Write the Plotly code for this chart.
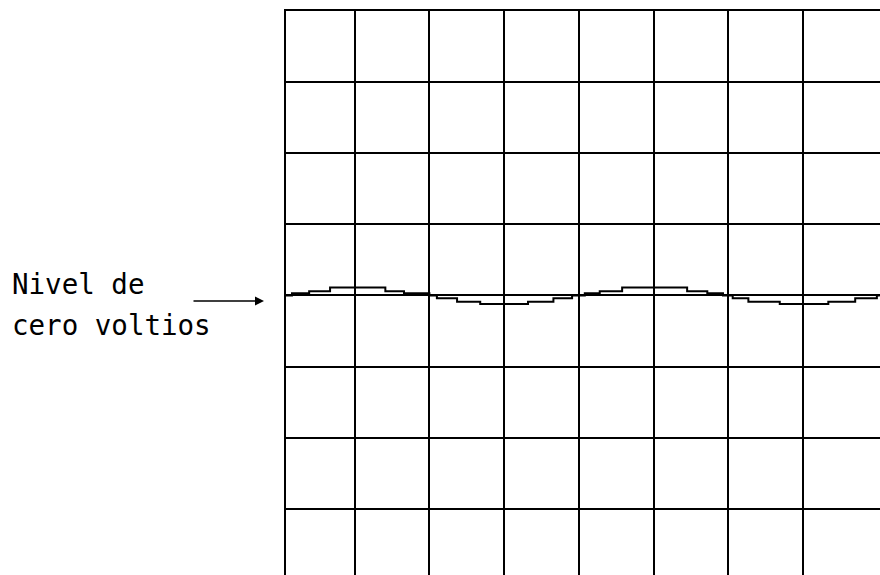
import plotly.graph_objects as go

# trace, in grid divisions (x: 0 = virtual grid origin, y: 0 = zero volts)
trace_x = [0.08, 0.16, 0.39, 0.67, 1.41, 1.66, 2.0, 2.1, 2.37, 2.68, 3.32, 3.66, 3.91,
           4.08, 4.28, 4.58, 5.45, 5.72, 5.93, 6.06, 6.27, 6.69, 7.34, 7.7, 7.99, 8.03]
trace_y = [0.0, 0.03, 0.06, 0.11, 0.06, 0.03, 0.0, -0.04, -0.09, -0.12, -0.09, -0.04, 0.0,
           0.03, 0.06, 0.11, 0.06, 0.03, 0.0, -0.04, -0.09, -0.12, -0.09, -0.04, 0.0, 0.0]

grid_x = [1, 2, 3, 4, 5, 6, 7]
grid_y = [-3, -2, -1, 0, 1, 2, 3]

label_top = "Nivel de"
label_bottom = "cero voltios"

W, H = 880, 575
FONT = "DejaVu Sans Mono"
LEFT, TOP = 286, 11

fig = go.Figure()
fig.add_trace(
    go.Scatter(
        x=trace_x,
        y=trace_y,
        mode="lines",
        line=dict(color="black", width=2, shape="hv"),
        hoverinfo="skip",
        showlegend=False,
    )
)

fig.update_layout(
    width=W,
    height=H,
    margin=dict(l=LEFT, r=0, t=TOP, b=0),
    paper_bgcolor="white",
    plot_bgcolor="white",
    showlegend=False,
)

fig.update_xaxes(
    range=[0.08, 8.032],
    tickvals=grid_x,
    showticklabels=False,
    ticks="",
    showgrid=True,
    gridcolor="black",
    gridwidth=2,
    zeroline=False,
    side="top",
    showline=True,
    linecolor="black",
    linewidth=2,
)
fig.update_yaxes(
    range=[-3.932, 4.0],
    tickvals=grid_y,
    showticklabels=False,
    ticks="",
    showgrid=True,
    gridcolor="black",
    gridwidth=2,
    zeroline=False,
    showline=True,
    linecolor="black",
    linewidth=2,
)

# labels and arrow sit left of the grid, so place them in paper x
plot_w = W - LEFT
fig.add_annotation(
    text=label_top,
    xref="paper", x=(10 - LEFT) / plot_w, xanchor="left",
    yref="y", y=0.16, yanchor="middle",
    showarrow=False,
    font=dict(family=FONT, size=27.5, color="black"),
)
fig.add_annotation(
    text=label_bottom,
    xref="paper", x=(10 - LEFT) / plot_w, xanchor="left",
    yref="y", y=-0.41, yanchor="middle",
    showarrow=False,
    font=dict(family=FONT, size=27.5, color="black"),
)
fig.add_annotation(
    text="",
    xref="paper", x=(264 - LEFT) / plot_w,
    yref="y", y=-0.08,
    ax=-72, ay=0, axref="pixel", ayref="pixel",
    showarrow=True,
    arrowhead=2,
    arrowsize=1.2,
    arrowwidth=1.5,
    arrowcolor="black",
)

fig.write_html(
    "out.html",
    config={"displayModeBar": False},
    post_script="document.body.style.margin='0';",
)
